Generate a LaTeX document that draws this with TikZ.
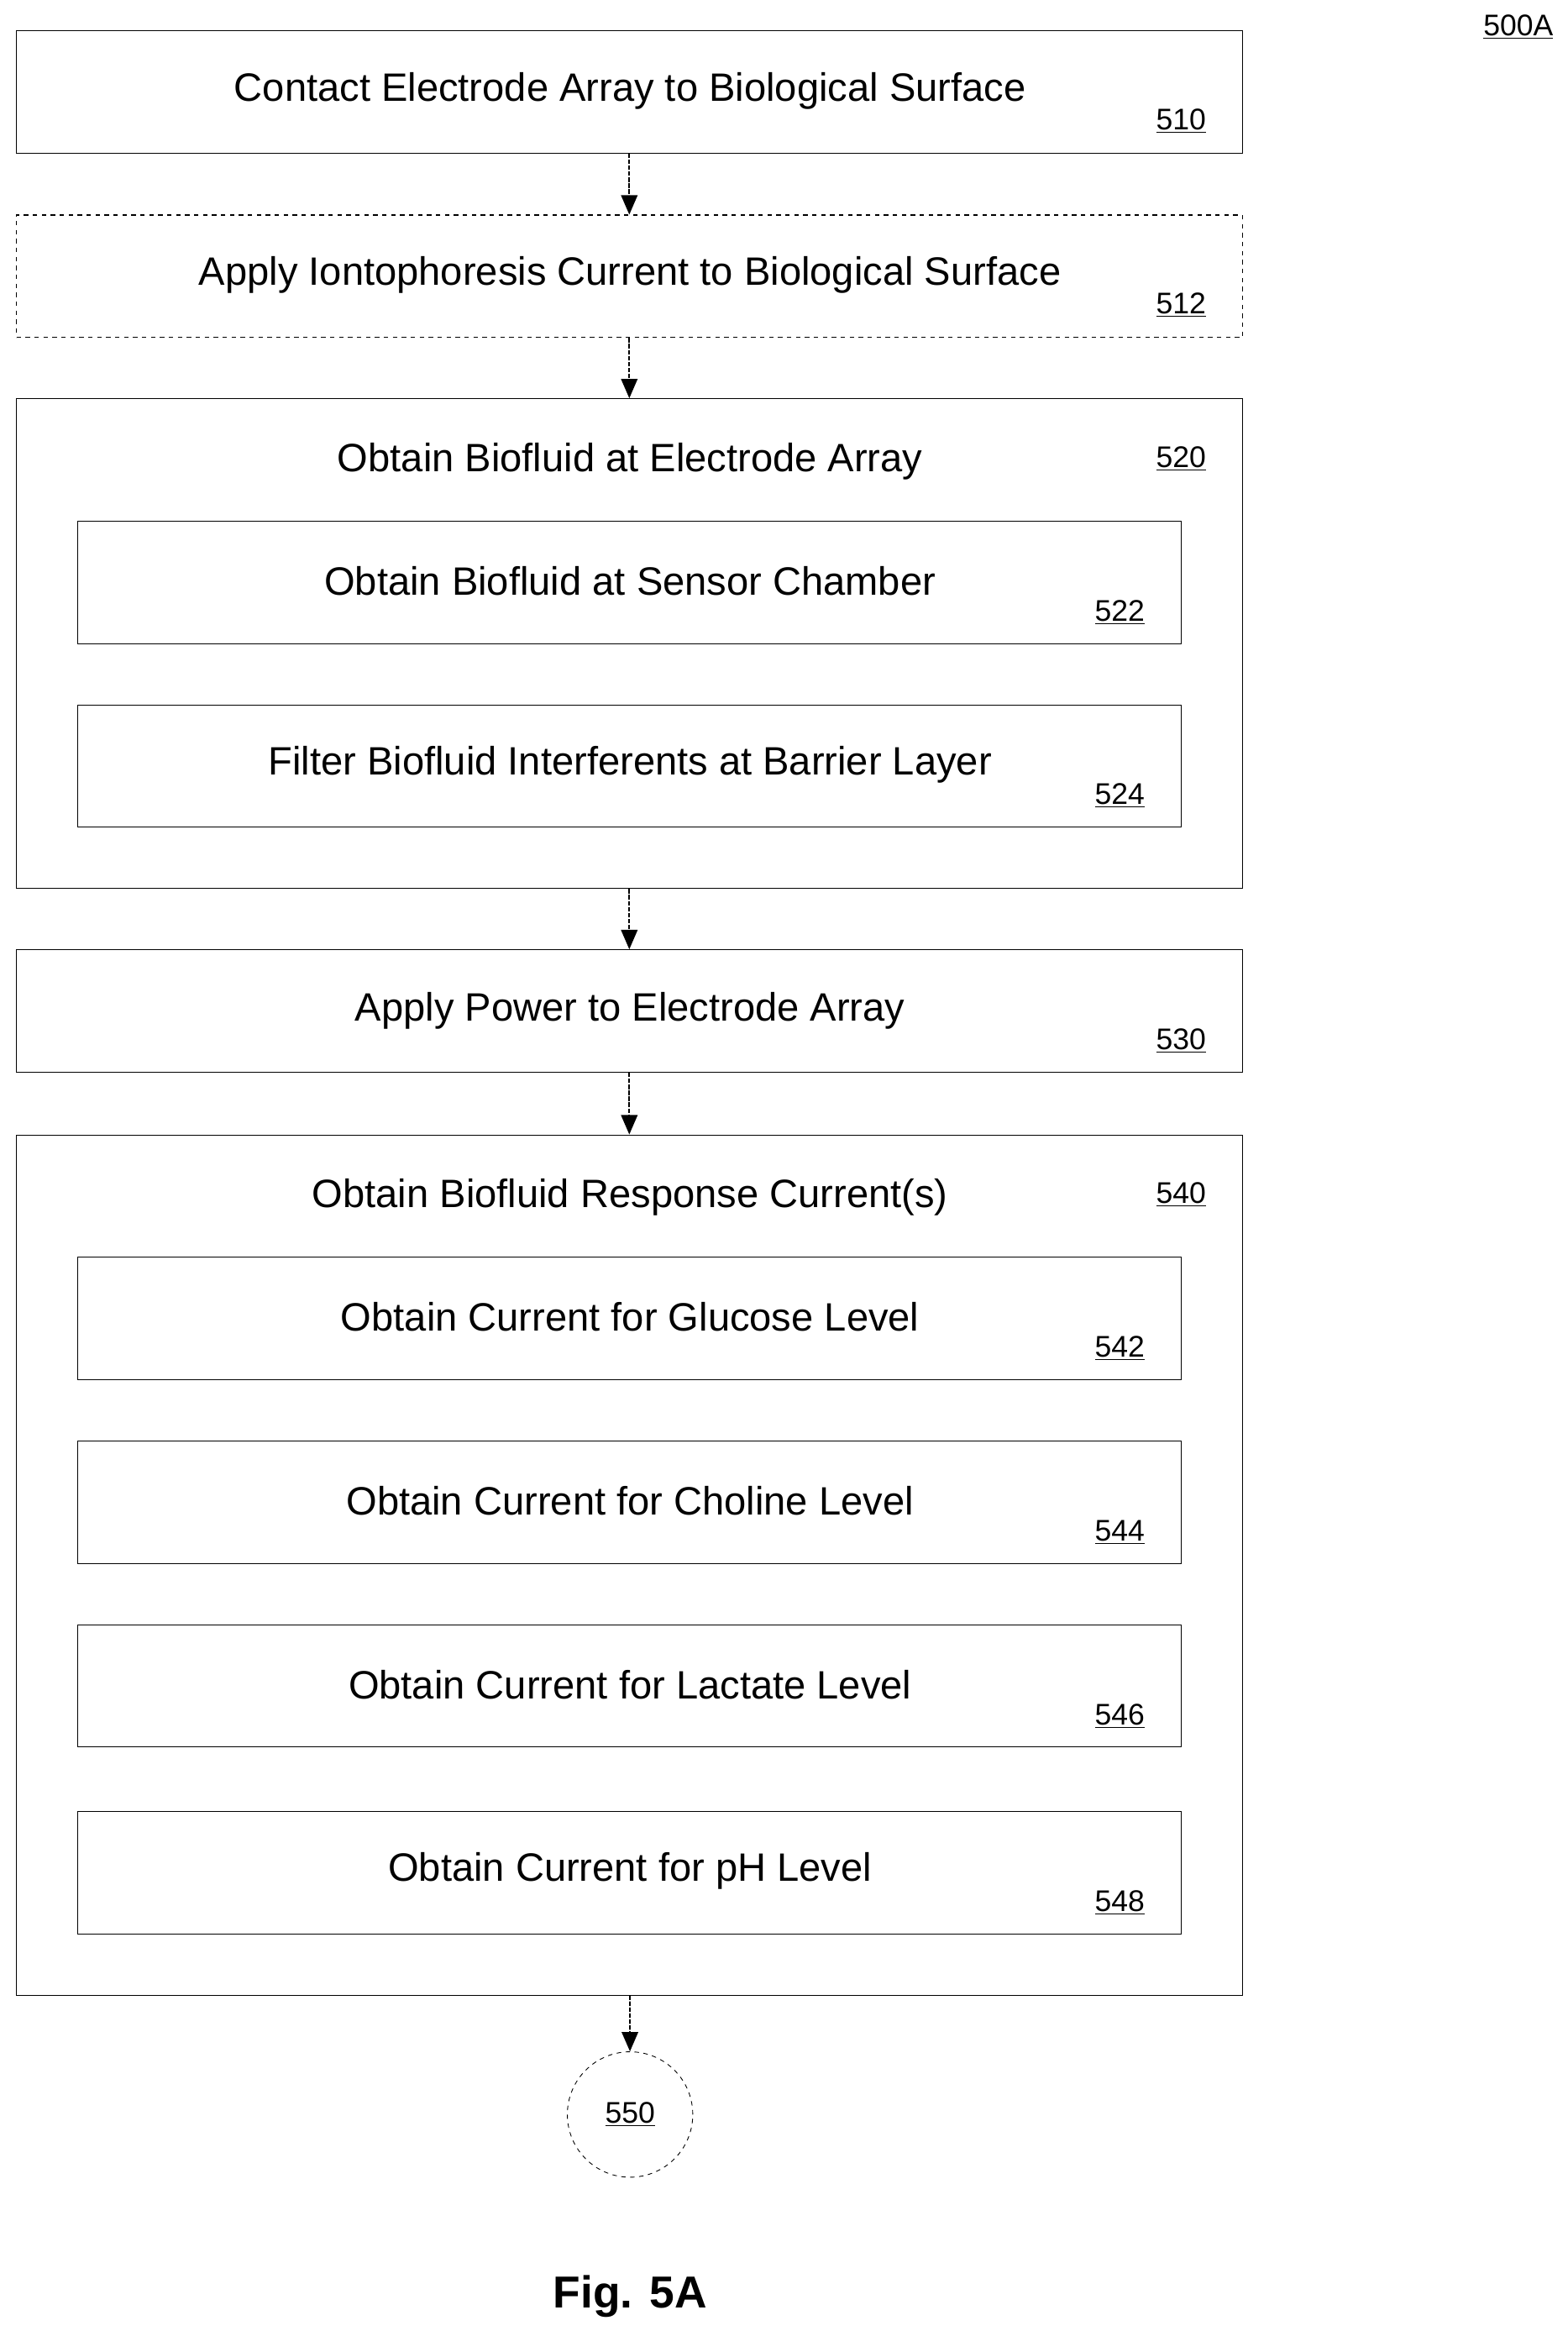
\documentclass[tikz,border=0pt]{standalone}
\usepackage{fontspec}
\setmainfont{Liberation Sans}
\usetikzlibrary{arrows.meta,positioning}

\tikzset{
  stepbox/.style={draw,line width=0.6pt,rectangle,minimum width=821pt,minimum height=82pt,inner sep=0pt},
  subbox/.style={draw,line width=0.6pt,rectangle,minimum width=739pt,minimum height=82pt,inner sep=0pt},
  lbl/.style={font=\fontsize{26.5}{30}\selectfont,inner sep=0pt},
  ref/.style={font=\fontsize{20}{24}\selectfont,inner sep=0pt},
  flow/.style={-{Triangle[length=13pt,width=11pt]},line width=1pt,dash pattern=on 3pt off 1pt}
}

\begin{document}
\begin{tikzpicture}[x=1pt,y=-1pt]
\useasboundingbox (0,0) rectangle (1050,1561);

\node (S510) at (421.5,61.5)[stepbox] {};
\node (S512) at (421.5,185)[stepbox,dashed] {};
\node (S520) at (421.5,431)[stepbox,minimum height=328pt] {};
\node (S522) at (421.5,390)[subbox] {};
\node (S524) at (421.5,513)[subbox] {};
\node (S530) at (421.5,677)[stepbox] {};
\node (S540) at (421.5,1048)[stepbox,minimum height=576pt] {};
\node (S542) at (421.5,883)[subbox] {};
\node (S544) at (421.5,1006)[subbox] {};
\node (S546) at (421.5,1129)[subbox] {};
\node (S548) at (421.5,1254)[subbox] {};
\node (S550) at (422,1416)[draw,dashed,line width=0.5pt,circle,minimum size=84pt,inner sep=0pt] {};

% step texts
\node (T510) at (422,61)[lbl] {Contact Electrode Array to Biological Surface};
\node (T512) at (422,184)[lbl] {Apply Iontophoresis Current to Biological Surface};
\node (T520) at (422,309)[lbl] {Obtain Biofluid at Electrode Array};
\node (T522) at (422,389)[lbl] {Obtain Biofluid at Sensor Chamber};
\node (T524) at (422,512)[lbl] {Filter Biofluid Interferents at Barrier Layer};
\node (T530) at (422,677)[lbl] {Apply Power to Electrode Array};
\node (T540) at (422,802)[lbl] {Obtain Biofluid Response Current(s)};
\node (T542) at (422,882)[lbl] {Obtain Current for Glucose Level};
\node (T544) at (422,1005)[lbl] {Obtain Current for Choline Level};
\node (T546) at (422,1128)[lbl] {Obtain Current for Lactate Level};
\node (T548) at (422,1253)[lbl] {Obtain Current for pH Level};

% reference numbers
\node (N510) at (791,81)[ref] {\underline{510}};
\node (N512) at (791,204)[ref] {\underline{512}};
\node (N520) at (791,307)[ref] {\underline{520}};
\node (N522) at (750,410)[ref] {\underline{522}};
\node (N524) at (750,533)[ref] {\underline{524}};
\node (N530) at (791,697)[ref] {\underline{530}};
\node (N540) at (791,800)[ref] {\underline{540}};
\node (N542) at (750,903)[ref] {\underline{542}};
\node (N544) at (750,1026)[ref] {\underline{544}};
\node (N546) at (750,1149)[ref] {\underline{546}};
\node (N548) at (750,1274)[ref] {\underline{548}};
\node (N550) at (422,1416)[ref] {\underline{550}};
\node (N500) at (1017,18)[ref] {\underline{500A}};
\node (Fig) at (422,1538)[font=\bfseries\fontsize{30}{34}\selectfont,inner sep=0pt] {Fig. 5A};

\draw [flow] (S510) -- (S512);
\draw [flow] (S512) -- (S520);
\draw [flow] (S520) -- (S530);
\draw [flow] (S530) -- (S540);
\draw [flow] (S540) -- (S550);
\end{tikzpicture}
\end{document}
